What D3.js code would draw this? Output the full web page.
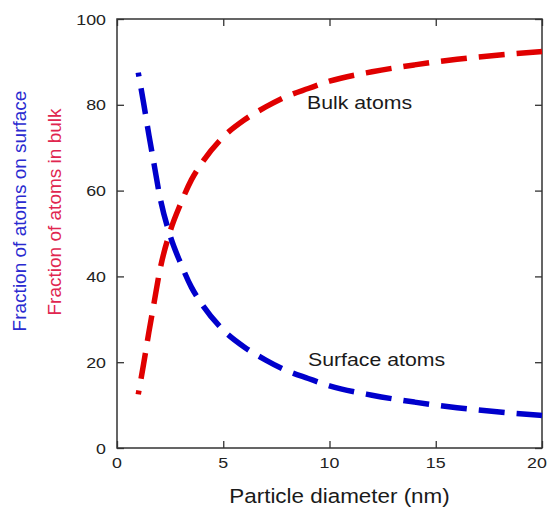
<!DOCTYPE html>
<html><head><meta charset="utf-8">
<script src="https://cdn.jsdelivr.net/npm/d3@7"></script>
<style>
html,body{margin:0;padding:0;background:#fff;}
svg{display:block;font-family:"Liberation Sans",Arial,Helvetica,sans-serif;}
</style></head>
<body>
<script>
const diameters = [1, 1.25, 1.5, 1.75, 2, 2.5, 3, 3.5, 4, 5, 6, 7, 8, 9, 10, 12, 14, 16, 18, 20];
const surfaceFraction = [87.5, 80.5, 73, 66, 59, 49.5, 43, 37.5, 33.5, 27.5, 23.5, 20.5, 18, 16.2, 14.5, 12.3, 10.7, 9.4, 8.4, 7.6];
const bulkFraction = [12.5, 19.5, 27, 34, 41, 50.5, 57, 62.5, 66.5, 72.5, 76.5, 79.5, 82, 83.8, 85.5, 87.7, 89.3, 90.6, 91.6, 92.4];
const xTicks = [0, 5, 10, 15, 20];
const yTicks = [0, 20, 40, 60, 80, 100];

const W = 550, H = 507;
const L = 117, R = 542, T = 19, B = 448;
const SX = 1.15;

const svg = d3.select("body").append("svg").attr("width", W).attr("height", H);
const x = d3.scaleLinear().domain([0, 20]).range([L, R]);
const y = d3.scaleLinear().domain([0, 100]).range([B, T]);

const frameColor = "#333";
const tk = 7;

// ticks (inside, mirrored)
const axB = d3.axisBottom(x).tickValues(xTicks).tickSize(-tk).tickFormat("");
const axT = d3.axisTop(x).tickValues(xTicks).tickSize(-tk).tickFormat("");
const axL = d3.axisLeft(y).tickValues(yTicks).tickSize(-tk).tickFormat("");
const axR = d3.axisRight(y).tickValues(yTicks).tickSize(-tk).tickFormat("");
[[axB, `translate(0,${B})`], [axT, `translate(0,${T})`], [axL, `translate(${L},0)`], [axR, `translate(${R},0)`]].forEach(([a, t]) => {
  const g = svg.append("g").attr("transform", t).call(a);
  g.select(".domain").remove();
  g.selectAll("line").attr("stroke", frameColor).attr("stroke-width", 1.3);
});
svg.append("rect").attr("x", L).attr("y", T).attr("width", R - L).attr("height", B - T)
  .attr("fill", "none").attr("stroke", frameColor).attr("stroke-width", 1.5);

function htext(px, py, str, size, color, anchor) {
  svg.append("text")
    .attr("transform", `translate(${px},${py}) scale(${SX},1)`)
    .attr("text-anchor", anchor || "start")
    .attr("font-size", size).attr("fill", color).text(str);
}

// tick labels
xTicks.forEach(v => htext(Math.min(x(v), 537), 468, String(v), 15.5, "#222", "middle"));
yTicks.forEach(v => htext(106, y(v) + 5.5, String(v), 15.5, "#222", "end"));

// axis titles
htext((L + R) / 2 + 10, 503, "Particle diameter (nm)", 19.5, "#1a1a1a", "middle");
svg.append("text").attr("transform", `translate(26,211) rotate(-90)`)
  .attr("text-anchor", "middle").attr("font-size", 19).attr("fill", "#2a2ad0")
  .text("Fraction of atoms on surface");
svg.append("text").attr("transform", `translate(61,212) rotate(-90)`)
  .attr("text-anchor", "middle").attr("font-size", 19).attr("fill", "#e0264f")
  .text("Fraction of atoms in bulk");

// annotations
htext(307, 109, "Bulk atoms", 18.5, "#1a1a1a", "start");
htext(308, 366, "Surface atoms", 18.5, "#1a1a1a", "start");

// curves
const line = d3.line().x(d => x(d[0])).y(d => y(d[1])).curve(d3.curveMonotoneX);
function drawSeries(vals, color) {
  const pts = diameters.map((d, i) => [d, vals[i]]);
  svg.append("path").attr("d", line(pts)).attr("fill", "none")
    .attr("stroke", color).attr("stroke-width", 5.5)
    .attr("stroke-dasharray", "26,12").attr("stroke-dashoffset", 22);
}
drawSeries(bulkFraction, "#e00000");
drawSeries(surfaceFraction, "#0000cc");
</script>
</body></html>
